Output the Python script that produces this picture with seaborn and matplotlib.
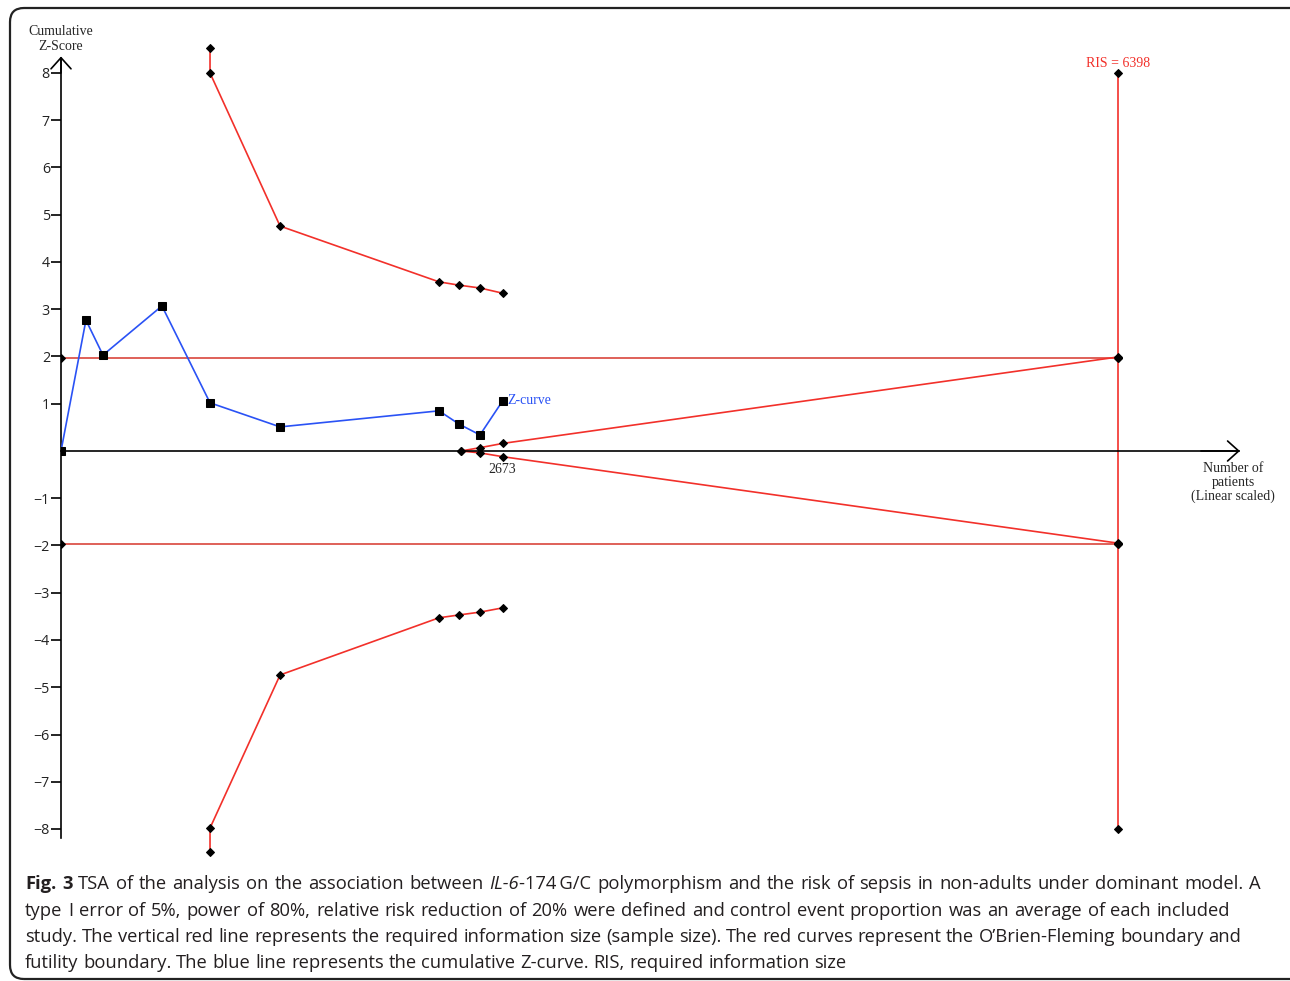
import numpy as np
import matplotlib
matplotlib.use('Agg')
import matplotlib.pyplot as plt
import seaborn as sns
from matplotlib.patches import FancyBboxPatch
from matplotlib.transforms import IdentityTransform

#############################################################
#Data
z_patients = [0, 151, 254, 611, 902, 1326, 2288, 2409, 2536, 2673]
z_scores = [0, 2.77, 2.03, 3.07, 1.02, 0.51, 0.85, 0.57, 0.34, 1.06]

#O'Brien-Fleming monitoring boundaries
obf_patients = [902, 902, 1326, 2288, 2409, 2536, 2673]
obf_upper = [8.53, 8.0, 4.76, 3.58, 3.51, 3.45, 3.34]
obf_lower = [-8.49, -7.98, -4.74, -3.53, -3.47, -3.41, -3.32]

#Futility boundaries
fut_patients = [2421, 2536, 2673, 6398]
fut_upper = [0, 0.07, 0.16, 1.99]
fut_lower = [0, -0.04, -0.12, -1.95]

ris = 6398
last_n = 2673
conv_z = 1.96
ris_z = [8, conv_z, -conv_z, -8]
y_ticks = [-8, -7, -6, -5, -4, -3, -2, -1, 1, 2, 3, 4, 5, 6, 7, 8]

red = '#f2302a'
blue = '#2a52f5'
serif = 'Liberation Serif'

#############################################################
sns.set_style('white')
plt.rcParams['font.family'] = ['Open Sans', 'DejaVu Sans']

fig = plt.figure(figsize=(12.9, 9.81), dpi=100)
ax = fig.add_axes([61/1290, 1-870/981, 1229/1290, 850/981])
ax.set_xlim(0, 1229/0.16521)
ax.set_ylim(-419/47.25, 431/47.25)

#Conventional boundaries and RIS line
for z in (conv_z, -conv_z):
    sns.lineplot(x=[0, ris], y=[z, z], ax=ax, color='#d9453c', lw=1.2,
                 estimator=None, sort=False, marker='D', markersize=4,
                 markerfacecolor='black', markeredgecolor='black')
sns.lineplot(x=[ris]*4, y=ris_z, ax=ax, color=red, lw=1.2, estimator=None,
             sort=False, marker='D', markersize=4.5, markerfacecolor='black',
             markeredgecolor='black')

#Monitoring and futility boundaries
for xs, ys in ((obf_patients, obf_upper), (obf_patients, obf_lower),
               (fut_patients, fut_upper), (fut_patients, fut_lower)):
    sns.lineplot(x=xs, y=ys, ax=ax, color=red, lw=1.2, estimator=None,
                 sort=False, marker='D', markersize=4.5,
                 markerfacecolor='black', markeredgecolor='black')

#Cumulative Z-curve
sns.lineplot(x=z_patients, y=z_scores, ax=ax, color=blue, lw=1.2,
             estimator=None, sort=False, marker='s', markersize=6,
             markerfacecolor='black', markeredgecolor='black', zorder=4)

#Axes drawn through the origin
for s in ('top', 'right'):
    ax.spines[s].set_visible(False)
ax.spines['left'].set_position(('data', 0))
ax.spines['bottom'].set_position(('data', 0))
ax.spines['left'].set_bounds(-8.2, 8.3)
ax.spines['bottom'].set_bounds(0, 7130)
for s in ('left', 'bottom'):
    ax.spines[s].set_color('black')
    ax.spines[s].set_linewidth(1.2)
    ax.spines[s].set_zorder(3)
ax.set_xticks([])
ax.set_yticks(y_ticks)
ax.set_yticklabels(['\u2212%d' % -t if t < 0 else str(t) for t in y_ticks])
ax.tick_params(axis='y', direction='out', length=7, width=1.2, color='black',
               labelsize=10.3, pad=1, left=True, labelcolor='#222222')
ax.annotate('', xy=(0, 8.35), xytext=(0, 8.0),
            arrowprops=dict(arrowstyle='->,head_length=0.5,head_width=0.45',
                            lw=1.2, color='black', mutation_scale=16,
                            shrinkA=0, shrinkB=0))
ax.annotate('', xy=(7136, 0), xytext=(6900, 0),
            arrowprops=dict(arrowstyle='->,head_length=0.5,head_width=0.45',
                            lw=1.2, color='black', mutation_scale=16,
                            shrinkA=0, shrinkB=0))

#Labels
ax.text(0, 8.72, 'Cumulative\nZ-Score', family=serif, fontsize=10,
        ha='center', va='center', linespacing=1.2, clip_on=False)
ax.text(ris, 8.06, 'RIS = %d' % ris, family=serif, fontsize=10, color=red,
        ha='center', va='bottom')
ax.text(z_patients[-1] + 30, z_scores[-1], 'Z-curve', family=serif,
        fontsize=10, color=blue, ha='left', va='center')
ax.text(last_n, -0.26, str(last_n), family=serif, fontsize=10,
        ha='center', va='top')
ax.text(7094, -0.23, 'Number of\npatients\n(Linear scaled)', family=serif,
        fontsize=10, ha='center', va='top', linespacing=1.1, clip_on=False)

#Rounded border
fig.patches.append(FancyBboxPatch((10, 2), 1320, 971,
                                  boxstyle='round,pad=0,rounding_size=14',
                                  transform=IdentityTransform(), fill=False,
                                  lw=1.6, edgecolor='#222222'))

#Caption (first two lines are justified in the original)
caption = [
    [('Fig. 3', 'bold'), (' TSA of the analysis on the association between ', 'normal'),
     ('IL-6', 'italic'), ('-174\u2009G/C polymorphism and the risk of sepsis in non-adults under dominant model. A', 'normal')],
    [('type I error of 5%, power of 80%, relative risk reduction of 20% were defined and control event proportion was an average of each included', 'normal')],
    [('study. The vertical red line represents the required information size (sample size). The red curves represent the O\u2019Brien-Fleming boundary and', 'normal')],
    [('futility boundary. The blue line represents the cumulative Z-curve. RIS, required information size', 'normal')],
]
caption_right = [1261, 1230, None, None]
renderer = fig.canvas.get_renderer()
cap_size = 13.2
cap_kw = dict(fontsize=cap_size, family=['Open Sans', 'DejaVu Sans'],
              color='#231f20', ha='left', va='baseline')


def make_text(txt, style, xpix, ypix):
    return fig.text(xpix / 1290, ypix / 981, txt,
                    fontweight='bold' if style == 'bold' else 'normal',
                    fontstyle='italic' if style == 'italic' else 'normal',
                    **cap_kw)


probe_a = make_text('x x', 'normal', 0, 0)
probe_b = make_text('xx', 'normal', 0, 0)
space_w = probe_a.get_window_extent(renderer).width - probe_b.get_window_extent(renderer).width
probe_a.remove()
probe_b.remove()

for i, parts in enumerate(caption):
    ypix = 981 - (889 + i * 26.5)
    words = []
    prev_space = True
    for txt, style in parts:
        pieces = txt.split(' ')
        for k, p in enumerate(pieces):
            if not p:
                continue
            if k == 0 and words and not prev_space:
                words[-1].append((p, style))
            else:
                words.append([(p, style)])
        prev_space = txt.endswith(' ')
    arts = []
    total = 0
    for w in words:
        segs = []
        for p, style in w:
            t = make_text(p, style, 0, ypix)
            segs.append((t, t.get_window_extent(renderer).width))
            total += segs[-1][1]
        arts.append(segs)
    gap = space_w
    if caption_right[i] is not None and len(arts) > 1:
        gap = (caption_right[i] - 25 - total) / (len(arts) - 1)
    xpix = 25
    for segs in arts:
        for t, w in segs:
            t.set_x(xpix / 1290)
            xpix += w
        xpix += gap

fig.savefig('out.png', dpi=100)
